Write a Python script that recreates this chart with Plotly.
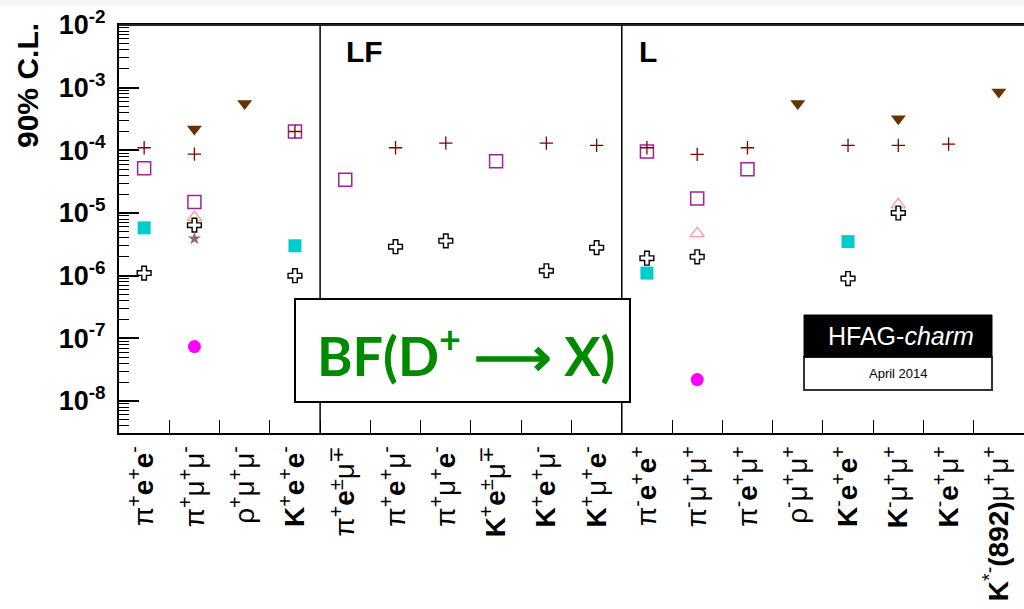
import plotly.graph_objects as go

# ---------------- data ----------------
categories = ["pi+e+e-", "pi+mu+mu-", "rho+mu+mu-", "K+e+e-",
              "pi+e+-mu-+", "pi+e+mu-", "pi+mu+e-", "K+e+-mu-+", "K+e+mu-", "K+mu+e-",
              "pi-e+e+", "pi-mu+mu+", "pi-e+mu+", "rho-mu+mu+", "K-e+e+", "K-mu+mu+",
              "K-e+mu+", "K*-mu+mu+"]
tick_labels = [
    "π<sup>+</sup><b>e</b><sup>+</sup><b>e</b><sup>-</sup>",
    "π<sup>+</sup>μ<sup>+</sup>μ<sup>-</sup>",
    "ρ<sup>+</sup>μ<sup>+</sup>μ<sup>-</sup>",
    "<b>K</b><sup>+</sup><b>e</b><sup>+</sup><b>e</b><sup>-</sup>",
    "π<sup>+</sup><b>e</b><sup>±</sup>μ<sup>∓</sup>",
    "π<sup>+</sup><b>e</b><sup>+</sup>μ<sup>-</sup>",
    "π<sup>+</sup>μ<sup>+</sup><b>e</b><sup>-</sup>",
    "<b>K</b><sup>+</sup><b>e</b><sup>±</sup>μ<sup>∓</sup>",
    "<b>K</b><sup>+</sup><b>e</b><sup>+</sup>μ<sup>-</sup>",
    "<b>K</b><sup>+</sup>μ<sup>+</sup><b>e</b><sup>-</sup>",
    "π<sup>-</sup><b>e</b><sup>+</sup><b>e</b><sup>+</sup>",
    "π<sup>-</sup>μ<sup>+</sup>μ<sup>+</sup>",
    "π<sup>-</sup><b>e</b><sup>+</sup>μ<sup>+</sup>",
    "ρ<sup>-</sup>μ<sup>+</sup>μ<sup>+</sup>",
    "<b>K</b><sup>-</sup><b>e</b><sup>+</sup><b>e</b><sup>+</sup>",
    "<b>K</b><sup>-</sup>μ<sup>+</sup>μ<sup>+</sup>",
    "<b>K</b><sup>-</sup><b>e</b><sup>+</sup>μ<sup>+</sup>",
    "<b>K</b><sup>*-</sup><b>(892)</b>μ<sup>+</sup>μ<sup>+</sup>",
]

y_tick_vals = [1e-8, 1e-7, 1e-6, 1e-5, 1e-4, 1e-3, 1e-2]
y_tick_text = ["<b>10<sup>-8</sup></b>", "<b>10<sup>-7</sup></b>", "<b>10<sup>-6</sup></b>",
               "<b>10<sup>-5</sup></b>", "<b>10<sup>-4</sup></b>", "<b>10<sup>-3</sup></b>",
               "<b>10<sup>-2</sup></b>"]

# series: purple open squares
sq_cats = ["pi+e+e-", "pi+mu+mu-", "K+e+e-", "pi+e+-mu-+", "K+e+-mu-+", "pi-e+e+", "pi-mu+mu+", "pi-e+mu+"]
sq_vals = [5.2e-5, 1.5e-5, 2.0e-4, 3.4e-5, 6.7e-5, 9.6e-5, 1.7e-5, 5.0e-5]

# series: cyan filled squares
cy_cats = ["pi+e+e-", "K+e+e-", "pi-e+e+", "K-e+e+"]
cy_vals = [5.8e-6, 3.0e-6, 1.1e-6, 3.5e-6]

# series: dark red thin crosses
pl_cats = ["pi+e+e-", "pi+mu+mu-", "K+e+e-", "pi+e+mu-", "pi+mu+e-", "K+e+mu-", "K+mu+e-",
           "pi-e+e+", "pi-mu+mu+", "pi-e+mu+", "K-e+e+", "K-mu+mu+", "K-e+mu+"]
pl_vals = [1.1e-4, 8.7e-5, 2.0e-4, 1.1e-4, 1.3e-4, 1.3e-4, 1.2e-4,
           1.1e-4, 8.6e-5, 1.1e-4, 1.2e-4, 1.2e-4, 1.26e-4]

# series: brown filled down-triangles
tr_cats = ["pi+mu+mu-", "rho+mu+mu-", "rho-mu+mu+", "K-mu+mu+", "K*-mu+mu+"]
tr_vals = [2.2e-4, 5.6e-4, 5.6e-4, 3.2e-4, 8.5e-4]

# series: pink open up-triangles
pk_cats = ["pi+mu+mu-", "pi-mu+mu+", "K-mu+mu+"]
pk_vals = [8.5e-6, 4.7e-6, 1.36e-5]

# series: black open crosses
cr_cats = ["pi+e+e-", "pi+mu+mu-", "K+e+e-", "pi+e+mu-", "pi+mu+e-", "K+e+mu-", "K+mu+e-",
           "pi-e+e+", "pi-mu+mu+", "K-e+e+", "K-mu+mu+"]
cr_vals = [1.1e-6, 6.4e-6, 1.0e-6, 2.9e-6, 3.6e-6, 1.2e-6, 2.8e-6, 1.9e-6, 2.0e-6, 9.0e-7, 1.0e-5]

# series: star
st_cats = ["pi+mu+mu-"]
st_vals = [3.9e-6]

# series: magenta circles
ci_cats = ["pi+mu+mu-", "pi-mu+mu+"]
ci_vals = [7.4e-8, 2.2e-8]

# ---------------- figure ----------------
fig = go.Figure()


def add(cats, vals, symbol, size, color, lw=1.5, lcolor=None):
    fig.add_trace(go.Scatter(
        x=cats, y=vals, mode="markers", showlegend=False,
        marker=dict(symbol=symbol, size=size, color=color,
                    line=dict(width=lw, color=lcolor or color)),
    ))


add(sq_cats, sq_vals, "square-open", 13, "#a020a0", 1.5)
add(cy_cats, cy_vals, "square", 13, "#00cccc", 0)
add(pl_cats, pl_vals, "cross-thin-open", 9.5, "#800000", 1.3)
add(tr_cats, tr_vals, "triangle-down", 13, "#663300", 0)
add(pk_cats, pk_vals, "triangle-up-open", 12.5, "#ff9999", 1.3)
add(cr_cats, cr_vals, "cross", 11.5, "white", 1.4, "black")
add(st_cats, st_vals, "star", 10, "#996666", 0)
add(ci_cats, ci_vals, "circle", 13, "#ff00ff", 0)

W, H = 1024, 609
L, R, T, B = 119, 0, 25, 176
pw, ph = W - L - R, H - T - B


def px(x):
    return (x - L) / pw


def py(y):
    return (H - B - y) / ph


minor_vals = [k * 10.0 ** e for e in range(-9, -2) for k in range(2, 10)]

fig.update_layout(
    width=W, height=H,
    margin=dict(l=L, r=R, t=T, b=B, pad=0),
    paper_bgcolor="white", plot_bgcolor="white",
    font=dict(family="Liberation Sans, Arial", color="black"),
    xaxis=dict(
        type="category", categoryorder="array", categoryarray=categories,
        range=[-0.5, 17.5], tickmode="array", tickvals=categories, ticktext=tick_labels,
        tickson="boundaries", ticks="inside", ticklen=13, tickwidth=1.2, tickcolor="black",
        tickangle=-90, tickfont=dict(size=28, family="Liberation Sans, Arial"),
        showgrid=False, showline=True, linewidth=2, linecolor="black", mirror=True,
        zeroline=False,
    ),
    yaxis=dict(
        type="log", range=[-8.51, -2],
        tickmode="array", tickvals=y_tick_vals, ticktext=y_tick_text,
        ticks="inside", ticklen=20, tickwidth=1.5, tickcolor="black",
        tickfont=dict(size=27, family="Liberation Sans, Arial"),
        minor=dict(tickmode="array", tickvals=minor_vals, ticks="inside", ticklen=10,
                   tickwidth=1.2, tickcolor="black", showgrid=False),
        showgrid=False, showline=True, linewidth=2, linecolor="black", mirror=False,
        zeroline=False, ticklabelstandoff=6,
    ),
)

shapes = [
    # light strip at top of page
    dict(type="rect", xref="paper", yref="paper", x0=px(0), x1=px(1024), y0=py(6), y1=py(0),
         fillcolor="#f6f6f6", line=dict(width=0), layer="below"),
    # top frame line
    dict(type="line", xref="paper", yref="paper", x0=0, x1=1, y0=1, y1=1,
         line=dict(color="#222", width=2)),
    # separators
    dict(type="line", xref="x", yref="paper", x0=3.5, x1=3.5, y0=0, y1=1,
         line=dict(color="black", width=1.5)),
    dict(type="line", xref="x", yref="paper", x0=9.5, x1=9.5, y0=0, y1=1,
         line=dict(color="black", width=1.5)),
    # BF box
    dict(type="rect", xref="paper", yref="paper", x0=px(295), x1=px(630), y0=py(402), y1=py(299),
         fillcolor="white", line=dict(color="black", width=2), layer="above"),
    # HFAG box
    dict(type="rect", xref="paper", yref="paper", x0=px(804), x1=px(992), y0=py(390), y1=py(357),
         fillcolor="white", line=dict(color="#333", width=2), layer="above"),
    dict(type="rect", xref="paper", yref="paper", x0=px(804), x1=px(992), y0=py(357), y1=py(315),
         fillcolor="black", line=dict(color="black", width=1), layer="above"),
]
fig.update_layout(shapes=shapes)

ann = [
    dict(text="<b>90% C.L.</b>", x=px(27), y=py(86), xref="paper", yref="paper",
         textangle=-90, showarrow=False, font=dict(size=30, color="black"),
         xanchor="center", yanchor="middle"),
    dict(text="<b>LF</b>", x=px(344), y=py(52), xref="paper", yref="paper",
         showarrow=False, font=dict(size=30), xanchor="left", yanchor="middle"),
    dict(text="<b>L</b>", x=px(637), y=py(52), xref="paper", yref="paper",
         showarrow=False, font=dict(size=30), xanchor="left", yanchor="middle"),
    dict(text="<b>BF(D<sup>+</sup> ⟶ X)</b>", x=px(466), y=py(352), xref="paper", yref="paper",
         showarrow=False, font=dict(size=54, color="#008a00", family="Lato, Open Sans"),
         xanchor="center", yanchor="middle"),
    dict(text="HFAG-<i>charm</i>", x=px(901), y=py(336), xref="paper", yref="paper",
         showarrow=False, font=dict(size=25, color="white"), xanchor="center", yanchor="middle"),
    dict(text="April 2014", x=px(898), y=py(373), xref="paper", yref="paper",
         showarrow=False, font=dict(size=13, color="black"), xanchor="center", yanchor="middle"),
]
fig.update_layout(annotations=ann)

fig.write_html("out.html")
